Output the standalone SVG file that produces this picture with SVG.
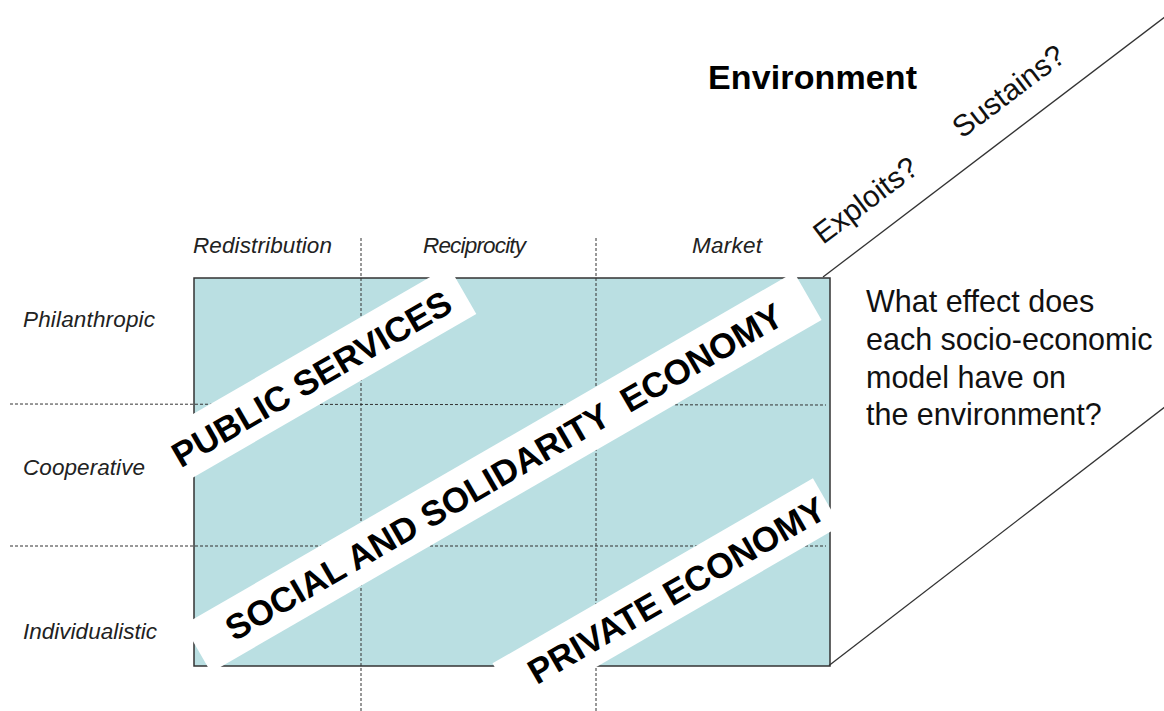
<svg xmlns="http://www.w3.org/2000/svg" width="1164" height="711" viewBox="0 0 1164 711">
<style>
.lbl{font-family:"Liberation Sans",Arial,sans-serif;font-style:italic;font-size:22.5px;fill:#222}
.band{fill:#ffffff}
.bt{font-family:"Liberation Sans",Arial,sans-serif;font-weight:bold;font-size:35px;fill:#000;text-anchor:middle}
.dash{stroke:#333;stroke-width:1;stroke-dasharray:3 2;fill:none}
.ln{stroke:#333;stroke-width:1.3;fill:none}
.q{font-family:"Liberation Sans",Arial,sans-serif;font-size:30.5px;fill:#111}
.d{font-family:"Liberation Sans",Arial,sans-serif;font-size:30px;fill:#111}
</style>
<rect width="1164" height="711" fill="#fff"/>
<g id="matrix">
<rect x="194" y="278" width="636" height="388" fill="#badfe2" stroke="#333" stroke-width="1.5"/>
</g>
<g id="grid">
<line class="dash" x1="361" y1="238" x2="361" y2="711"/>
<line class="dash" x1="596" y1="238" x2="596" y2="711"/>
<line class="dash" x1="10" y1="404" x2="826" y2="405"/>
<line class="dash" x1="10" y1="546" x2="826" y2="546"/>
</g>
<g id="band-public" transform="translate(168,492) rotate(-30)">
<rect class="band" x="0" y="-55" width="356" height="55"/>
<text class="bt" x="181" y="-14">PUBLIC SERVICES</text>
</g>
<g id="band-sse" transform="translate(211,672.4) rotate(-30)">
<rect class="band" x="0" y="-55" width="705" height="55"/>
<text class="bt" x="354" y="-15" xml:space="preserve">SOCIAL AND SOLIDARITY  ECONOMY</text>
</g>
<g id="band-private" transform="translate(520,711) rotate(-30)">
<rect class="band" x="0" y="-55" width="370" height="55"/>
<text class="bt" x="196" y="-14">PRIVATE ECONOMY</text>
</g>
<g id="col-labels">
<text class="lbl" x="193" y="252.5" textLength="139">Redistribution</text>
<text class="lbl" x="423" y="252.5" textLength="103">Reciprocity</text>
<text class="lbl" x="692" y="252.5" textLength="70">Market</text>
</g>
<g id="row-labels">
<text class="lbl" x="23" y="326.5" textLength="132">Philanthropic</text>
<text class="lbl" x="23" y="475" textLength="122">Cooperative</text>
<text class="lbl" x="23" y="638.5" textLength="134">Individualistic</text>
</g>
<g id="environment">
<text x="708" y="88.5" font-family="Liberation Sans, Arial, sans-serif" font-weight="bold" font-size="34" textLength="209">Environment</text>
</g>
<g id="connectors">
<line class="ln" x1="823" y1="277" x2="1170" y2="13"/>
<line class="ln" x1="829" y1="665.5" x2="1170" y2="403"/>
</g>
<g id="diag-labels">
<text class="d" transform="translate(823,245) rotate(-37)">Exploits?</text>
<text class="d" transform="translate(962,139) rotate(-37)">Sustains?</text>
</g>
<g id="question">
<text class="q" x="866" y="312">What effect does</text>
<text class="q" x="866" y="350">each socio-economic</text>
<text class="q" x="866" y="387.5">model have on</text>
<text class="q" x="866" y="425">the environment?</text>
</g>
</svg>
